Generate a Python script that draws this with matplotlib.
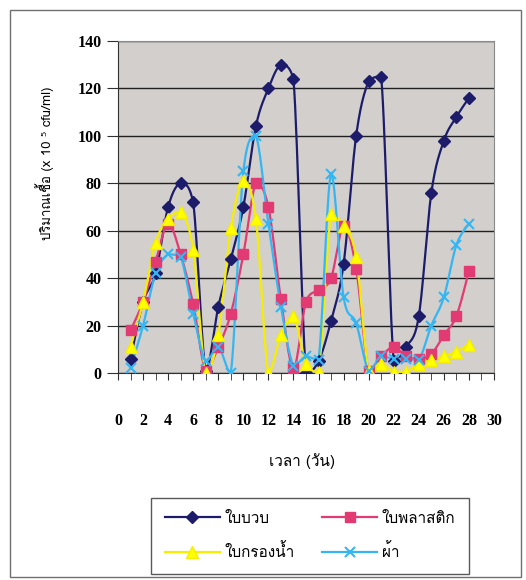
import numpy as np
import matplotlib
matplotlib.use('Agg')
import matplotlib.pyplot as plt
from matplotlib import font_manager
from matplotlib.ft2font import FT2Font
from matplotlib.patches import Rectangle
from matplotlib.ticker import MultipleLocator

days = list(range(1, 29))

luffa = [6, 30, 42, 70, 80, 72, 1, 28, 48, 70, 104, 120, 130, 124,
         0, 5, 22, 46, 100, 123, 125, 5, 11, 24, 76, 98, 108, 116]
plastic = [18, 30, 47, 63, 50, 29, 1, 11, 25, 50, 80, 70, 31, 2,
           30, 35, 40, 62, 44, 1, 7, 11, 7, 6, 8, 16, 24, 43]
filter_leaf = [11, 30, 55, 65, 68, 52, 0, 16, 61, 81, 65, 0, 16, 24,
               4, 0.5, 67, 62, 49, 1, 4, 0.5, 0.5, 4, 5.5, 7, 9, 12]
cloth = [2, 20, 42, 50, 49, 25, 5, 11, 0, 85, 100, 63, 28, 3,
         7, 5.5, 84, 32, 21, 1, 7, 6, 6, 5.5, 20, 32, 54, 63]

series_names = ['ใบบวบ', 'ใบพลาสติก', 'ใบกรองน้ำ', 'ผ้า']
x_ticks = list(range(0, 31, 2))
y_ticks = list(range(0, 141, 20))


def thai_family():
    # first installed family that carries Thai glyphs
    for f in font_manager.fontManager.ttflist:
        try:
            cmap = FT2Font(f.fname).get_charmap()
        except Exception:
            continue
        if 0x0E1A in cmap and 0x0E27 in cmap and 0x0E34 in cmap:
            return f.name
    return 'DejaVu Sans'


def smooth(x, y, steps=16):
    # Bezier smoothing, control points kept inside each segment's y range
    x = np.asarray(x, float)
    y = np.asarray(y, float)
    px = np.concatenate([[x[0]], x, [x[-1]]])
    py = np.concatenate([[y[0]], y, [y[-1]]])
    t = np.linspace(0, 1, steps)[:, None]
    xs, ys = [], []
    for i in range(1, len(px) - 2):
        p0 = np.array([px[i], py[i]])
        p3 = np.array([px[i + 1], py[i + 1]])
        p1 = p0 + (np.array([px[i + 1], py[i + 1]]) - np.array([px[i - 1], py[i - 1]])) / 6
        p2 = p3 - (np.array([px[i + 2], py[i + 2]]) - np.array([px[i], py[i]])) / 6
        lo, hi = min(p0[1], p3[1]), max(p0[1], p3[1])
        p1[1] = np.clip(p1[1], lo, hi)
        p2[1] = np.clip(p2[1], lo, hi)
        seg = ((1 - t) ** 3) * p0 + 3 * ((1 - t) ** 2) * t * p1 \
            + 3 * (1 - t) * t ** 2 * p2 + t ** 3 * p3
        xs.append(seg[:, 0])
        ys.append(seg[:, 1])
    return np.concatenate(xs), np.concatenate(ys)


thai = thai_family()
serif_bold = dict(family='Liberation Serif', weight='bold', size=11.5)

fig = plt.figure(figsize=(5.26, 5.8), dpi=100)
fig.patch.set_facecolor('white')
fig.patches.append(Rectangle((10 / 526, 1 - 577 / 580), 511 / 526, 567 / 580,
                             transform=fig.transFigure, fill=False,
                             edgecolor='#707070', linewidth=1.0))

ax = fig.add_axes([118 / 526, 1 - 373 / 580, 376 / 526, 332 / 580])
ax.set_facecolor('#d3cfcc')

styles = [
    dict(color='#1c1c6b', marker='D', ms=6.5, mfc='#1c1c6b', mec='#1c1c6b'),
    dict(color='#e23a72', marker='s', ms=7.5, mfc='#e23a72', mec='#e23a72'),
    dict(color='#f5ee00', marker='^', ms=8.5, mfc='#ffff00', mec='#f5ee00'),
    dict(color='#35b6f2', marker='x', ms=7.5, mfc='none', mec='#35b6f2', mew=1.5),
]

handles = []
for values, name, st in zip([luffa, plastic, filter_leaf, cloth], series_names, styles):
    sx, sy = smooth(days, values)
    ax.plot(sx, sy, color=st['color'], lw=1.6, zorder=3)
    ax.plot(days, values, linestyle='none', marker=st['marker'], ms=st['ms'],
            mfc=st['mfc'], mec=st['mec'], mew=st.get('mew', 1.0), zorder=4)
    h, = ax.plot([], [], color=st['color'], lw=1.6, marker=st['marker'], ms=st['ms'],
                 mfc=st['mfc'], mec=st['mec'], mew=st.get('mew', 1.0), label=name)
    handles.append(h)

ax.set_xlim(0, 30)
ax.set_ylim(0, 140)
ax.set_xticks(x_ticks)
ax.xaxis.set_minor_locator(MultipleLocator(1))
ax.set_yticks(y_ticks)
ax.grid(axis='y', color='#202020', linewidth=1.0, zorder=1)
ax.set_axisbelow(True)

for side in ['top', 'right']:
    ax.spines[side].set_color('#8a8a8a')
for side in ['left', 'bottom']:
    ax.spines[side].set_color('#303030')

ax.tick_params(axis='x', which='both', direction='out', length=5, pad=24,
               color='#303030')
ax.tick_params(axis='y', direction='out', length=8, pad=4, color='#303030')
ax.set_xticklabels([str(v) for v in x_ticks], fontdict=serif_bold)
ax.set_yticklabels([str(v) for v in y_ticks], fontdict=serif_bold)

fig.text(302 / 526, 1 - 461 / 580, 'เวลา (วัน)', family=[thai, 'DejaVu Sans'],
         fontsize=11, ha='center', va='center')
fig.text(45 / 526, 1 - 163 / 580, 'ปริมาณเชื้อ (x 10 ⁵ cfu/ml)',
         family=[thai, 'DejaVu Sans'], fontsize=9.5, rotation=90,
         ha='center', va='center')

# legend filled row by row
order = [0, 2, 1, 3]
leg = fig.legend([handles[i] for i in order], [series_names[i] for i in order],
                 loc='center', bbox_to_anchor=(310 / 526, 1 - 536 / 580), ncol=2,
                 prop={'family': [thai, 'DejaVu Sans'], 'size': 11},
                 frameon=True, fancybox=False, edgecolor='#303030',
                 handlelength=3.6, columnspacing=1.8, handletextpad=0.3,
                 labelspacing=1.15, borderpad=0.9)
leg.get_frame().set_linewidth(1.0)

fig.savefig('out.png', dpi=100)
